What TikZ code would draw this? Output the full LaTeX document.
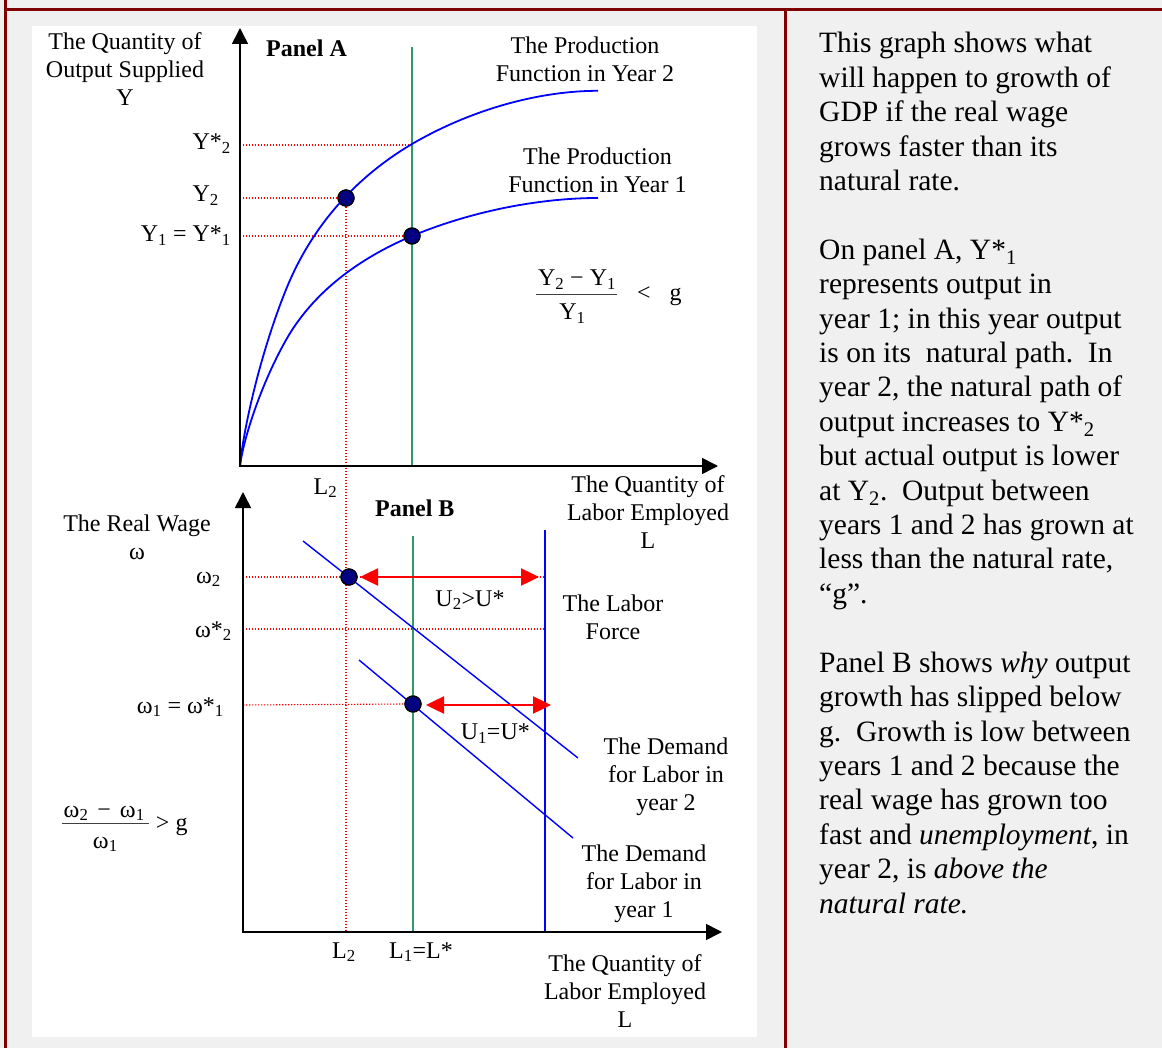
\documentclass[tikz,border=0pt]{standalone}
\usepackage{fontspec}
\setmainfont{Liberation Serif}
\usetikzlibrary{arrows.meta}
\usetikzlibrary{math}
\definecolor{myborder}{RGB}{128,0,0}
\definecolor{mygray}{RGB}{240,240,240}
\definecolor{mygreen}{RGB}{51,153,102}
\definecolor{mynavy}{RGB}{0,0,128}

\tikzset{
  lbl/.style={font=\fontsize{24}{28}\selectfont, inner sep=0pt, anchor=base},
  lblml/.style={lbl, text width=220pt, align=flush center},
  pnl/.style={lbl, font=\fontsize{24}{28}\selectfont\bfseries},
  frc/.style={font=\fontsize{24}{28}\selectfont, inner sep=0pt, anchor=base},
  txt/.style={font=\fontsize{29.5}{34.4}\selectfont\frenchspacing, text width=340pt, align=flush left, anchor=base west, inner sep=0pt},
  axis/.style={line width=1.6pt, -{Triangle[length=16pt,width=16pt]}},
  guide/.style={red, line width=1.1pt, dash pattern=on 1.4pt off 1.6pt},
  natural/.style={mygreen, line width=1.5pt},
  prodcurve/.style={blue, line width=1.8pt},
  demand/.style={blue, line width=1.4pt},
  dot/.style={circle, fill=mynavy, draw=black, line width=1.2pt, minimum size=16pt, inner sep=0pt},
  gap/.style={red, line width=2.5pt, {Triangle[length=18pt,width=17pt]}-{Triangle[length=18pt,width=17pt]}}
}

\begin{document}
\begin{tikzpicture}[x=1pt,y=-1pt]
\tikzmath{
\growth=1.40;
}
\useasboundingbox (0,0) rectangle (1162,1048);

% table cell and frame
\fill[mygray] (0,0) rectangle (1162,1048);
\fill[white] (32,25.7) rectangle (757.3,1036.7);
\draw[myborder, line width=3pt] (5.7,0) -- (5.7,1048);
\draw[myborder, line width=3pt] (4.2,9.5) -- (1162,9.5);
\draw[myborder, line width=2.7pt] (785.3,9.5) -- (785.3,1048);

% axes points
\coordinate (oA) at (240,466);
\coordinate (yA) at (240,28);
\coordinate (xA) at (718,466);
\coordinate (oB) at (243,932);
\coordinate (yB) at (243,492);
\coordinate (xB) at (722,932);

% ---- Panel A ----
\node[dot] (eA2) at (346,198) {};
\node[dot] (eA1) at (412,236) {};

\draw[guide] (240,145) -- (412,145);
\draw[guide] (240,198) -- (eA2.west);
\draw[guide] (240,236) -- (eA1.west);
\draw[guide] (eA2.south) -- (346,932);

\draw[natural] (412,47) -- (412,466);

\begin{scope}[shift={(oA)}]
\draw[prodcurve] (0,0) .. controls (3,-25) and (20,-80) .. (46,-126) .. controls (76,-179) and (127,-211) .. (172,-230) .. controls (232,-255) and (300,-268) .. (358,-268);
\begin{scope}[yscale=\growth]
\draw[prodcurve] (0,0) .. controls (3,-25) and (20,-80) .. (46,-126) .. controls (76,-179) and (127,-211) .. (172,-230) .. controls (232,-255) and (300,-268) .. (358,-268);
\end{scope}
\end{scope}

\draw[axis] (oA) -- (yA);
\draw[axis] ([xshift=-1pt]oA) -- (xA);

\node[dot] at (eA2) {};
\node[dot] at (eA1) {};

\node[lblml] (ylabA) at (125,50) {The Quantity of\\Output Supplied\\Y};
\node[pnl] (panA) at (306.5,57) {Panel A};
\node[lblml] (prodY2) at (585,53.5) {The Production\\Function in Year 2};
\node[lblml] (prodY1) at (597.5,165) {The Production\\Function in Year 1};
\node[lbl, anchor=base east] (ys2) at (231,150) {Y*\textsubscript{2}};
\node[lbl, anchor=base east] (y2) at (219,202) {Y\textsubscript{2}};
\node[lbl, anchor=base east] (y1) at (231,242) {Y\textsubscript{1} = Y*\textsubscript{1}};
\node[lbl] (l2A) at (325.5,494) {L\textsubscript{2}};
\node[lblml] (xlabA) at (648,492) {The Quantity of\\Labor Employed\\L};

\node[frc] (fAnum) at (577,286) {Y\textsubscript{2} − Y\textsubscript{1}};
\node[frc] (fAden) at (572.5,320) {Y\textsubscript{1}};
\draw[black!75, line width=1pt] (536,295) -- (617,295);
\node[frc] (fAlt) at (644,301) {<};
\node[frc] (fAg) at (675.5,301) {g};

% ---- Panel B ----
\node[dot] (eB2) at (349,577) {};
\node[dot] (eB1) at (413,704) {};

\draw[guide] (243,577) -- (545,577);
\draw[guide] (243,629) -- (545,629);
\draw[guide] (243,705) -- (eB1.west);

\draw[natural] (413,536) -- (413,932);
\draw[demand] (545,530) -- (545,932);
\draw[demand] (303,541) -- (578,758);
\draw[demand] (359,660) -- (573,838);

\draw[axis] (oB) -- (yB);
\draw[axis] ([xshift=-1pt]oB) -- (xB);

\node[dot] at (eB2) {};
\node[dot] at (eB1) {};

\coordinate (u2a) at (360,577);
\coordinate (u2b) at (539,577);
\coordinate (u1a) at (426,705);
\coordinate (u1b) at (551,705);
\draw[gap] (u2a) -- (u2b);
\draw[gap] (u1a) -- (u1b);

\node[lblml] (ylabB) at (137,531) {The Real Wage\\ω};
\node[pnl] (panB) at (414.8,516) {Panel B};
\node[lbl, anchor=base east] (w2) at (221,583) {ω\textsubscript{2}};
\node[lbl, anchor=base east] (ws2) at (232,637) {ω*\textsubscript{2}};
\node[lbl, anchor=base east] (w1) at (224,713) {ω\textsubscript{1} = ω*\textsubscript{1}};
\node[lbl] (u2) at (470,606) {U\textsubscript{2}>U*};
\node[lbl] (u1) at (495.3,739.5) {U\textsubscript{1}=U*};
\node[lblml] (lforce) at (613,611) {The Labor\\Force};
\node[lblml] (dem2) at (666,754) {The Demand\\for Labor in\\year 2};
\node[lblml] (dem1) at (644,861) {The Demand\\for Labor in\\year 1};
\node[lbl] (l2B) at (344,958) {L\textsubscript{2}};
\node[lbl] (l1B) at (421,958) {L\textsubscript{1}=L*};
\node[lblml] (xlabB) at (625,971) {The Quantity of\\Labor Employed\\L};

\node[frc] (fBnum) at (104.2,817) {ω\textsubscript{2}\hspace{3pt} − \hspace{3pt}ω\textsubscript{1}};
\node[frc] (fBden) at (105.3,848) {ω\textsubscript{1}};
\draw[black!75, line width=1pt] (61.7,823.3) -- (149.3,823.3);
\node[frc] (fBgt) at (162.7,830) {>};
\node[frc] (fBg) at (181.7,830) {g};

% ---- explanation ----
\node[txt] (txtA) at (819,53) {This graph shows what\\
will happen to growth of\\
GDP if the real wage\\
grows faster than its\\
natural rate.};
\node[txt] (txtB) at (819,259.4) {On panel A, Y*\textsubscript{1}\\
represents output in\\
year 1; in this year output\\
is on its~ natural path.~ In\\
year 2, the natural path of\\
output increases to Y*\textsubscript{2}\\
but actual output is lower\\
at Y\textsubscript{2}.~ Output between\\
years 1 and 2 has grown at\\
less than the natural rate,\\
“g”.};
\node[txt] (txtC) at (819,672.2) {Panel B shows \emph{why} output\\
growth has slipped below\\
g.~ Growth is low between\\
years 1 and 2 because the\\
real wage has grown too\\
fast and \emph{unemployment}, in\\
year 2, is \emph{above the}\\
\emph{natural rate.}};

\end{tikzpicture}
\end{document}
